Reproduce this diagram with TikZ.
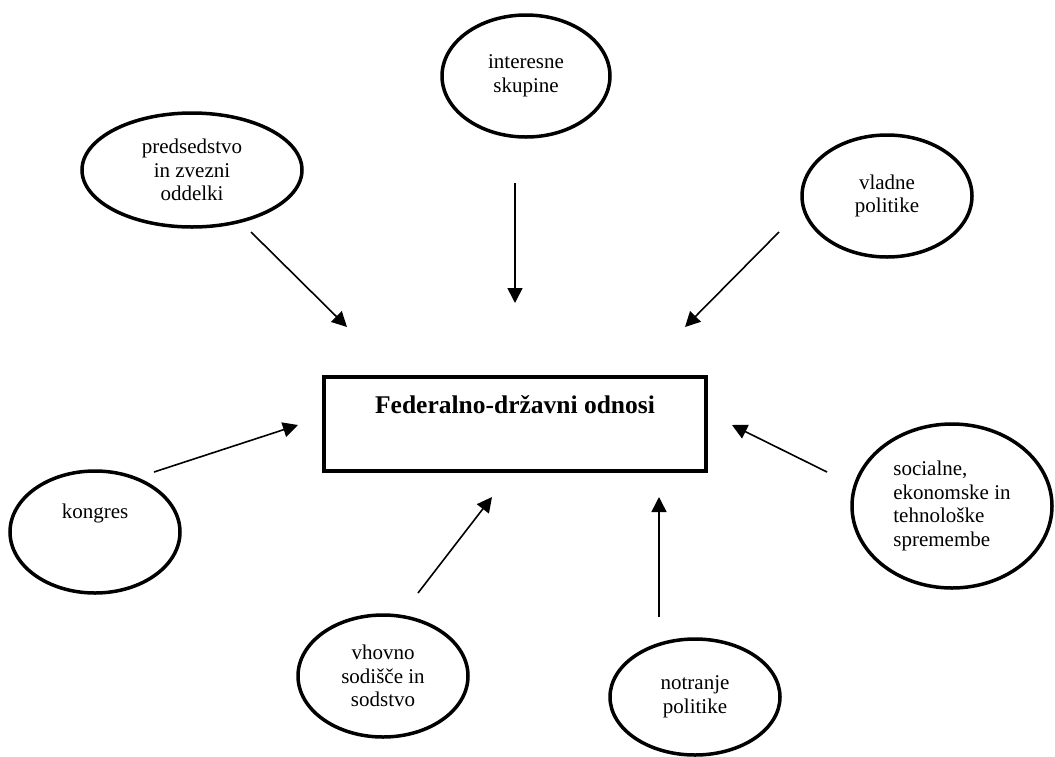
\documentclass[tikz,border=0pt]{standalone}
\usepackage{fontspec}
\setmainfont{Liberation Serif}
\usetikzlibrary{shapes.geometric,arrows.meta}

\tikzset{
  bubble/.style={draw, ellipse, line width=3.5pt, inner sep=2pt, align=center,
    font=\fontsize{21}{23.5}\selectfont},
  arr/.style={line width=1.6pt, -{Triangle[length=15pt,width=15pt]}}
}

\begin{document}
\begin{tikzpicture}[x=1pt, y=-1pt]
      \useasboundingbox (0,0) rectangle (1055,756);

      \node[draw, line width=4pt, minimum width=382pt, minimum height=94pt,
        text height=18pt, text depth=40pt, font=\fontsize{25.5}{28}\selectfont\bfseries]
        (fed) at (515,424) {Federalno-državni odnosi};

      \node[bubble, minimum width=220pt, minimum height=114pt] (pred) at (192,170) {predsedstvo\\in zvezni\\oddelki};
      \node[bubble, minimum width=168pt, minimum height=122pt] (inter) at (526,76) {interesne\\skupine};
      \node[bubble, minimum width=170pt, minimum height=122pt] (vlad) at (887,196) {vladne\\politike};
      \node[bubble, minimum width=170pt, minimum height=122pt, text height=15pt, text depth=43pt] (kong) at (95,532) {kongres};
      \node[bubble, minimum width=200pt, minimum height=164pt, align=left] (soc) at (952,506) {socialne,\\ekonomske in\\tehnološke\\spremembe};
      \node[bubble, minimum width=170pt, minimum height=122pt] (vhov) at (383,676) {vhovno\\sodišče in\\sodstvo};
      \node[bubble, minimum width=170pt, minimum height=116pt] (notr) at (695,697) {notranje\\politike};

      \coordinate (pred-a) at (251,232);  \coordinate (pred-b) at (347,327);
      \coordinate (inter-a) at (515,183); \coordinate (inter-b) at (515,303);
      \coordinate (vlad-a) at (779,232);  \coordinate (vlad-b) at (685,327);
      \coordinate (kong-a) at (154,472);  \coordinate (kong-b) at (298,425);
      \coordinate (soc-a) at (827,472);   \coordinate (soc-b) at (732,425);
      \coordinate (vhov-a) at (418,593);  \coordinate (vhov-b) at (492,497);
      \coordinate (notr-a) at (659,617);  \coordinate (notr-b) at (659,497);

      \draw[arr] (pred-a) -- (pred-b);
      \draw[arr] (inter-a) -- (inter-b);
      \draw[arr] (vlad-a) -- (vlad-b);
      \draw[arr] (kong-a) -- (kong-b);
      \draw[arr] (soc-a) -- (soc-b);
      \draw[arr] (vhov-a) -- (vhov-b);
      \draw[arr] (notr-a) -- (notr-b);
\end{tikzpicture}
\end{document}
